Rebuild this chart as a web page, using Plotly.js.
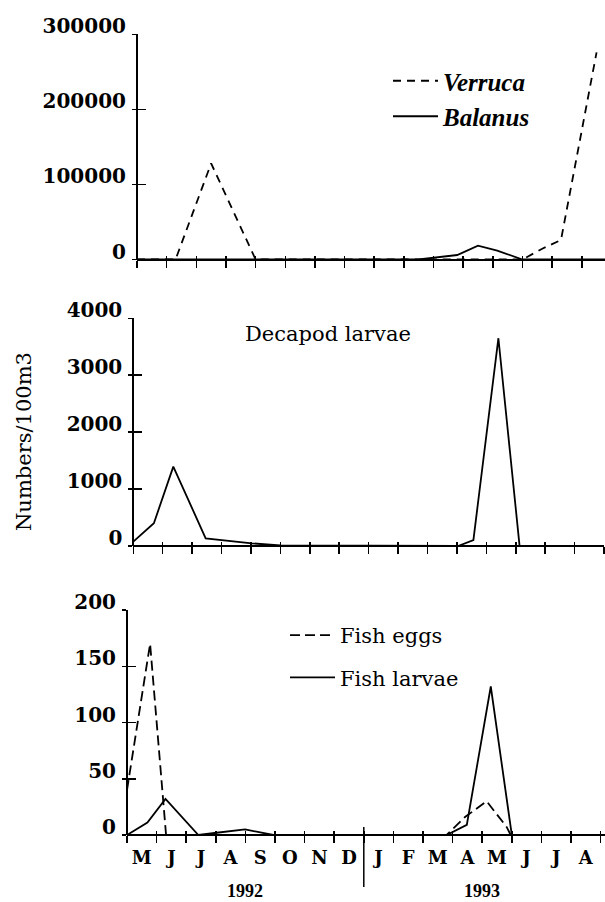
<!DOCTYPE html>
<html><head><meta charset="utf-8">
<script src="https://cdn.plot.ly/plotly-3.0.1.min.js"></script>
<style>html,body{margin:0;padding:0;background:#fff}#chart{width:605px;height:902px}</style>
</head><body><div id="chart"></div>
<script>
// x = months elapsed since 1 May 1992 (one unit per month)
const months = ['M','J','J','A','S','O','N','D','J','F','M','A','M','J','J','A'];
const years = ['1992','1993'];
const yearStartIdx = [0, 8];
const yearEndIdx = [8, 16];

// Panel 1: barnacle larvae
const verrucaX = [0, 1.3, 2.5, 4.0, 13.0, 13.7, 14.3, 15.5];
const verrucaY = [0, 0, 128000, 0, 0, 15000, 26000, 276000];
const balanusX = [0, 9.5, 10.8, 11.5, 12.15, 13.0, 15.8];
const balanusY = [0, 0, 6000, 18500, 11800, 0, 0];

// Panel 2: decapod larvae
const decapodX = [0, 0.7, 1.36, 2.46, 4.03, 5.0, 11.04, 11.56, 12.41, 13.13, 16];
const decapodY = [76, 400, 1395, 135, 47, 10, 0, 105, 3650, 0, 0];

// Panel 3: fish
const fishEggsX = [0, 0.78, 1.32, 10.8, 11.42, 12.15, 12.83, 12.96, 16];
const fishEggsY = [40, 170, 0, 0, 16, 30, 7, 0, 0];
const fishLarvaeX = [0, 0.69, 1.3, 2.41, 3.03, 3.99, 4.94, 10.8, 11.48, 12.29, 13.0, 16];
const fishLarvaeY = [0, 11, 32, 0, 2, 5, 0, 0, 9, 132, 0, 0];

const ticksTop = [0, 100000, 200000, 300000];
const ticksMid = [0, 1000, 2000, 3000, 4000];
const ticksBot = [0, 50, 100, 150, 200];

const W = 605, H = 902;
const px = v => v / W, py = v => 1 - v / H;
const boundaries = months.map((m, i) => i).concat([months.length]);
const centers = months.map((m, i) => i + 0.5);

const serif = 'DejaVu Serif';
const black = '#000';

// pixel placement of each scanned panel
function xGeom(leftPx, spacing, rightPx) {
  return {domain: [px(leftPx), px(rightPx)], range: [0, (rightPx - leftPx) / spacing]};
}
function yGeom(zeroPx, topPx, max) {
  return {domain: [py(zeroPx), py(topPx)], range: [0, max]};
}

function line(x, y, dash, name, xa, ya, legend, show) {
  return {x, y, type: 'scatter', mode: 'lines', name, xaxis: xa, yaxis: ya,
    line: {color: black, width: 1.8, dash}, cliponaxis: false,
    showlegend: show, legend, hoverinfo: 'skip', legendgroup: name};
}
// empty holders so the overlay tick axes (inner half of the crossing ticks) get drawn
function holder(xa, ya) {
  return {x: [], y: [], type: 'scatter', mode: 'lines', xaxis: xa, yaxis: ya,
    showlegend: false, hoverinfo: 'skip'};
}

const traces = [
  line(verrucaX, verrucaY, '8px,6px', 'Verruca', 'x', 'y', 'legend', true),
  line(balanusX, balanusY, 'solid', 'Balanus', 'x', 'y', 'legend', true),
  line(decapodX, decapodY, 'solid', 'Decapod larvae', 'x2', 'y2', 'legend', false),
  line(fishEggsX, fishEggsY, '10px,5px', 'Fish eggs', 'x3', 'y3', 'legend2', true),
  line(fishLarvaeX, fishLarvaeY, 'solid', 'Fish larvae', 'x3', 'y3', 'legend2', true),
  holder('x4', 'y4'), holder('x5', 'y5'), holder('x6', 'y6')
];

// axis lines are drawn as zero lines so that they sit exactly on the data zero
function xMain(g, anchor, labels) {
  const a = {domain: g.domain, range: g.range, anchor, showline: false,
    zeroline: true, zerolinecolor: black, zerolinewidth: 2,
    showgrid: false, fixedrange: true,
    tickmode: 'array', tickvals: boundaries, ticks: 'outside', ticklen: 7,
    tickwidth: 1.5, tickcolor: black, showticklabels: false};
  if (labels) {
    a.tickvals = centers; a.ticktext = months; a.ticks = ''; a.showticklabels = true;
    a.tickfont = {family: serif, size: 18, color: black, weight: 'bold'};
    a.ticklabelstandoff = 10;
    a.minor = {tickmode: 'array', tickvals: boundaries, ticks: 'outside', ticklen: 7,
      tickwidth: 1.5, tickcolor: black, showgrid: false};
  }
  return a;
}
function xOver(over, g, anchor) {
  return {overlaying: over, anchor, range: g.range, showline: false, showgrid: false, zeroline: false,
    tickmode: 'array', tickvals: boundaries, ticks: 'inside', ticklen: 4, tickwidth: 1.5,
    tickcolor: black, showticklabels: false, fixedrange: true};
}
function yMain(g, anchor, tv) {
  return {domain: g.domain, range: g.range, anchor, showline: false,
    zeroline: true, zerolinecolor: black, zerolinewidth: 2,
    showgrid: false, fixedrange: true,
    tickmode: 'array', tickvals: tv, ticktext: tv.map(String), ticks: 'outside', ticklen: 4,
    tickwidth: 1.5, tickcolor: black, ticklabelstandoff: 2, ticklabelshift: -8,
    tickfont: {family: serif, size: 20, color: black, weight: 'bold'}};
}
function yOver(over, g, anchor, tv) {
  return {overlaying: over, anchor, range: g.range, showline: false, showgrid: false, zeroline: false,
    tickmode: 'array', tickvals: tv, ticks: 'inside', ticklen: 9, tickwidth: 1.5,
    tickcolor: black, showticklabels: false, fixedrange: true};
}

const gxTop = xGeom(137, 29.65, 605), gxMid = xGeom(133.3, 29.42, 604), gxBot = xGeom(127, 29.6, 605);
const gyTop = yGeom(259.5, 34.3, 300000), gyMid = yGeom(546, 318.3, 4000), gyBot = yGeom(835, 610, 200);

const layout = {
  width: W, height: H, margin: {l: 0, r: 0, t: 0, b: 0},
  paper_bgcolor: '#fff', plot_bgcolor: 'rgba(0,0,0,0)',
  xaxis: xMain(gxTop, 'y', false),
  yaxis: yMain(gyTop, 'x', ticksTop),
  xaxis2: xMain(gxMid, 'y2', false),
  yaxis2: yMain(gyMid, 'x2', ticksMid),
  xaxis3: xMain(gxBot, 'y3', true),
  yaxis3: yMain(gyBot, 'x3', ticksBot),
  xaxis4: xOver('x', gxTop, 'y'),
  yaxis4: yOver('y', gyTop, 'x', ticksTop),
  xaxis5: xOver('x2', gxMid, 'y2'),
  yaxis5: yOver('y2', gyMid, 'x2', ticksMid),
  xaxis6: xOver('x3', gxBot, 'y3'),
  yaxis6: yOver('y3', gyBot, 'x3', ticksBot),
  legend: {x: px(388), xanchor: 'left', y: py(98.5), yanchor: 'middle', itemwidth: 45,
    bgcolor: 'rgba(0,0,0,0)', borderwidth: 0, traceorder: 'grouped', tracegroupgap: 0,
    font: {family: 'Liberation Serif', size: 25, color: black, style: 'italic', weight: 'bold'}},
  legend2: {x: px(285), xanchor: 'left', y: py(656.5), yanchor: 'middle', itemwidth: 45,
    bgcolor: 'rgba(0,0,0,0)', borderwidth: 0, traceorder: 'grouped', tracegroupgap: 12,
    font: {family: serif, size: 21, color: black}},
  annotations: [
    {text: 'Decapod larvae', xref: 'paper', yref: 'paper', x: px(328), y: py(334),
      xanchor: 'center', yanchor: 'middle', showarrow: false,
      font: {family: serif, size: 21, color: black}},
    {text: 'Numbers/100m3', xref: 'paper', yref: 'paper', x: px(23.3), y: py(441.7),
      xanchor: 'center', yanchor: 'middle', showarrow: false, textangle: -90,
      font: {family: serif, size: 21, color: black}}
  ].concat(years.map((t, i) => ({
      text: t, xref: 'x3', yref: 'paper', x: (yearStartIdx[i] + yearEndIdx[i]) / 2, y: py(902),
      xanchor: 'center', yanchor: 'bottom', showarrow: false, borderpad: 0,
      font: {family: 'Liberation Serif', size: 18, color: black, weight: 'bold'}}))),
  shapes: [
    {type: 'line', xref: 'x3', yref: 'paper', x0: yearStartIdx[1], x1: yearStartIdx[1],
      y0: py(827), y1: py(887), line: {color: black, width: 1.5}}
  ]
};

Plotly.newPlot('chart', traces, layout, {staticPlot: true, displayModeBar: false});
</script></body></html>
